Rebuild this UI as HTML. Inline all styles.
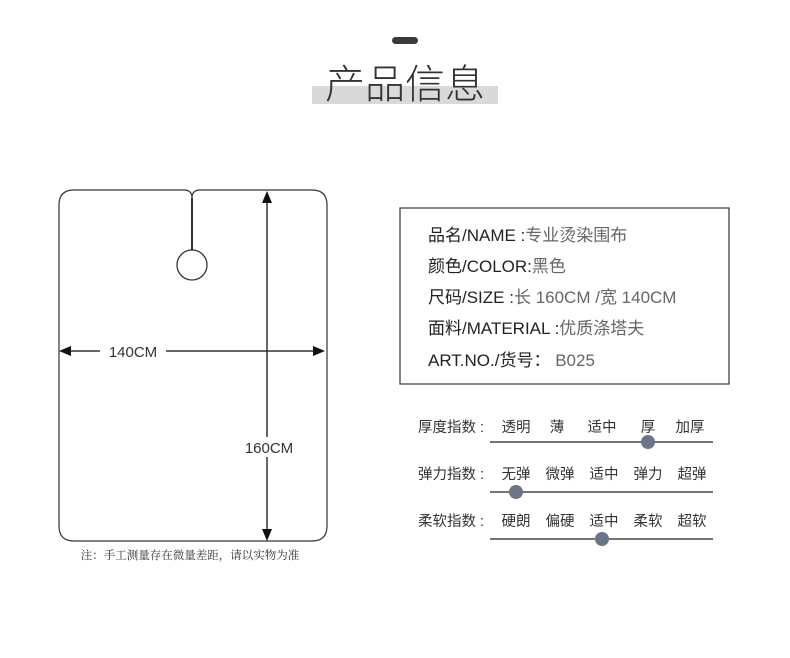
<!DOCTYPE html>
<html><head><meta charset="utf-8"><style>
html,body{margin:0;padding:0;background:#fff;}
svg text{font-family:"Liberation Sans","Noto Sans CJK SC",sans-serif;}
</style></head><body>
<svg width="790" height="653" viewBox="0 0 790 653" xmlns="http://www.w3.org/2000/svg">
<rect x="392" y="37" width="26" height="7" rx="3.5" fill="#3a3a3a"/>
<rect x="312" y="86" width="186" height="18" fill="#d9d9d9"/>
<text x="405" y="98" font-size="40" text-anchor="middle" fill="#333" style="font-weight:300">产品信息</text>

<path d="M74,190 H184 Q192,190 192,198 Q192,190 200,190 H312 Q327,190 327,205 V526 Q327,541 312,541 H74 Q59,541 59,526 V205 Q59,190 74,190 Z" fill="none" stroke="#333" stroke-width="1.2"/>
<line x1="192" y1="198" x2="192" y2="250" stroke="#333" stroke-width="2"/>
<circle cx="192" cy="265" r="15" fill="#fff" stroke="#333" stroke-width="1.3"/>
<line x1="267" y1="200" x2="267" y2="532" stroke="#333" stroke-width="1.5"/>
<polygon points="267,191 262,203 272,203" fill="#111"/>
<polygon points="267,541 262,529 272,529" fill="#111"/>
<line x1="68" y1="351" x2="100" y2="351" stroke="#333" stroke-width="1.5"/>
<line x1="166" y1="351" x2="316" y2="351" stroke="#333" stroke-width="1.5"/>
<polygon points="59,351 71,346 71,356" fill="#111"/>
<polygon points="325,351 313,346 313,356" fill="#111"/>
<rect x="236" y="437" width="62" height="20" fill="#fff"/>
<text x="133" y="357" font-size="15" text-anchor="middle" fill="#333">140CM</text>
<text x="269" y="453" font-size="15" text-anchor="middle" fill="#333">160CM</text>
<text x="190" y="559" font-size="11.5" text-anchor="middle" fill="#333" style="font-family:'Liberation Serif','Noto Serif CJK SC',serif">注：手工测量存在微量差距，请以实物为准</text>

<rect x="400" y="208" width="329" height="176" fill="none" stroke="#333" stroke-width="1.2"/>
<g font-size="17" fill="#222">
<text x="428" y="241">品名/NAME :<tspan fill="#666">专业烫染围布</tspan></text>
<text x="428" y="272">颜色/COLOR:<tspan fill="#666">黑色</tspan></text>
<text x="428" y="303">尺码/SIZE :<tspan fill="#666">长 160CM /宽 140CM</tspan></text>
<text x="428" y="334">面料/MATERIAL :<tspan fill="#666">优质涤塔夫</tspan></text>
<text x="428" y="366">ART.NO./货号： <tspan fill="#666">B025</tspan></text>
</g>

<g font-size="14.5" fill="#333" text-anchor="middle">
<text x="418" y="432" text-anchor="start">厚度指数 :</text>
<text x="516" y="432">透明</text><text x="557" y="432">薄</text><text x="602" y="432">适中</text><text x="648" y="432">厚</text><text x="690" y="432">加厚</text>
<text x="418" y="479" text-anchor="start">弹力指数 :</text>
<text x="516" y="479">无弹</text><text x="560" y="479">微弹</text><text x="604" y="479">适中</text><text x="648" y="479">弹力</text><text x="692" y="479">超弹</text>
<text x="418" y="526" text-anchor="start">柔软指数 :</text>
<text x="516" y="526">硬朗</text><text x="560" y="526">偏硬</text><text x="604" y="526">适中</text><text x="648" y="526">柔软</text><text x="692" y="526">超软</text>
</g>
<g stroke="#222" stroke-width="1.3">
<line x1="490" y1="442" x2="713" y2="442"/>
<line x1="490" y1="492" x2="713" y2="492"/>
<line x1="490" y1="539" x2="713" y2="539"/>
</g>
<g fill="#6b7587">
<circle cx="648" cy="442" r="7"/>
<circle cx="516" cy="492" r="7"/>
<circle cx="602" cy="539" r="7"/>
</g>
</svg>
</body></html>
